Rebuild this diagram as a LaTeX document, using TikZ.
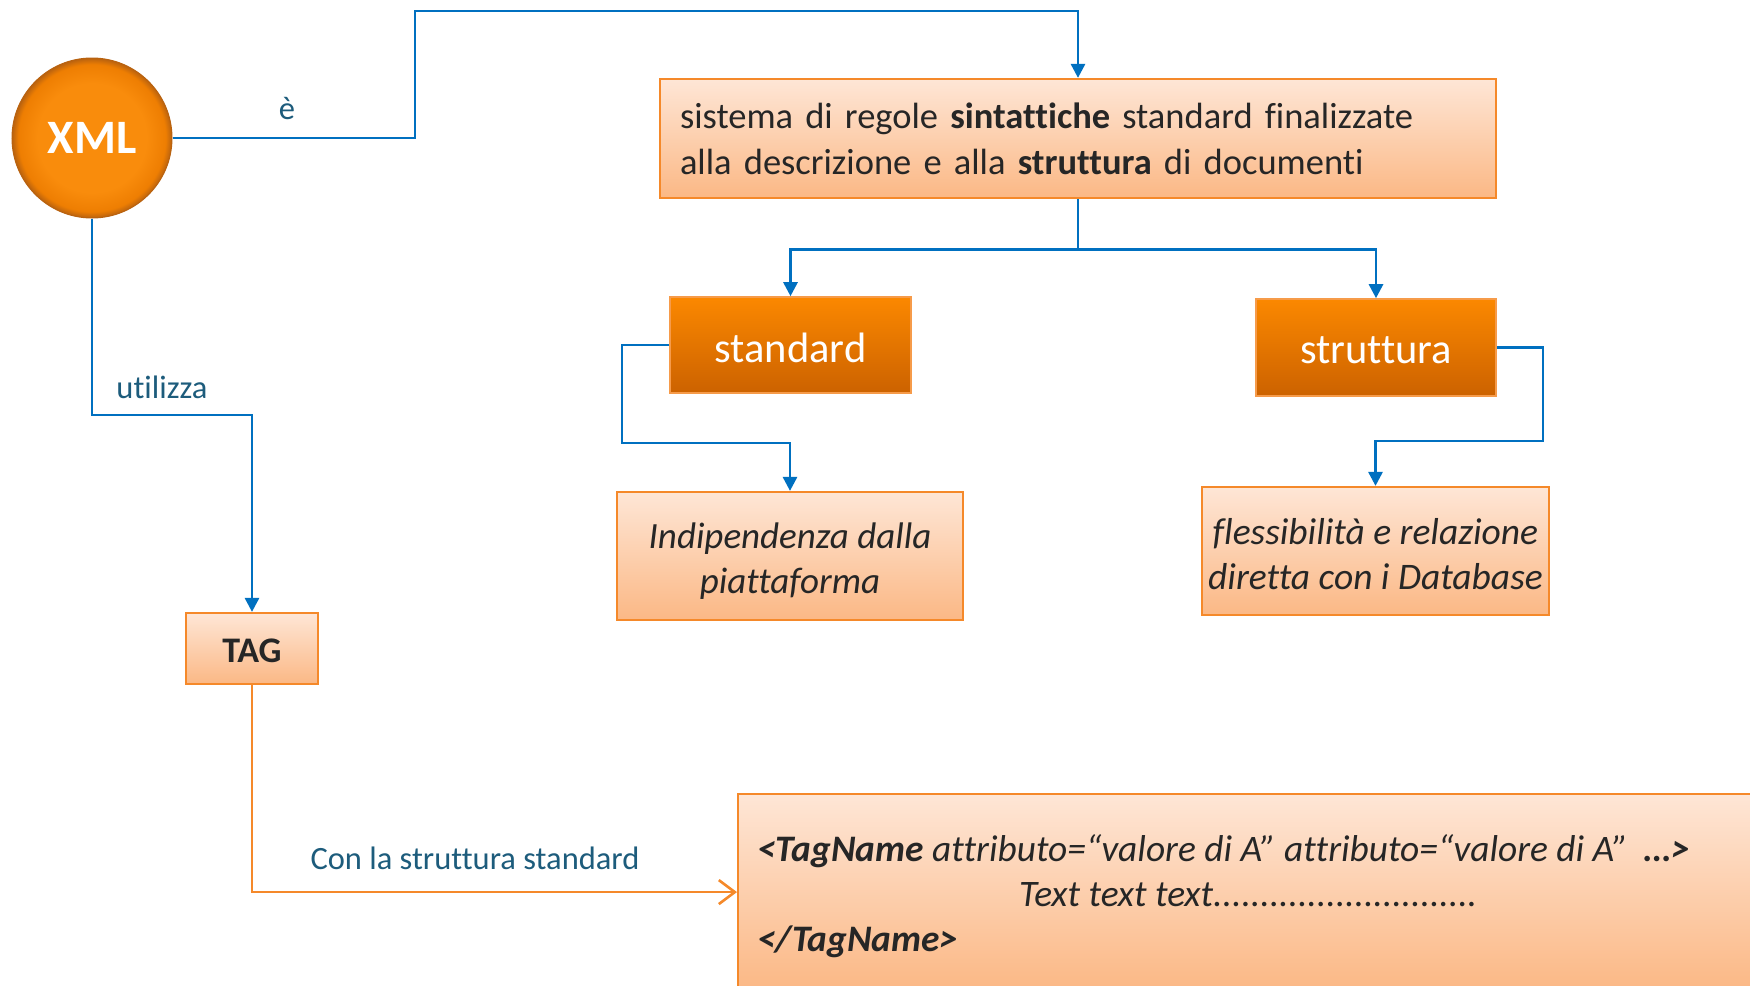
\documentclass[tikz,border=0pt]{standalone}
\usepackage{fontspec}
\setmainfont[Ligatures={TeX,NoCommon}]{Carlito}
\usetikzlibrary{arrows.meta,calc}
\definecolor{lnblue}{HTML}{0070C0}
\definecolor{lblteal}{HTML}{1D5C7C}
\definecolor{boxborder}{HTML}{F5892A}
\definecolor{lighttop}{HTML}{FEE6D6}
\definecolor{lightbot}{HTML}{FBB885}
\definecolor{darktop}{HTML}{FB8800}
\definecolor{darkbot}{HTML}{CC6200}
\definecolor{txtdark}{HTML}{262626}
\definecolor{ballA}{HTML}{F98C0C}
\definecolor{ballB}{HTML}{EE7E02}
\definecolor{ballC}{HTML}{B9620F}
\definecolor{lineorange}{HTML}{F5892A}
\pgfdeclareradialshading{xmlball}{\pgfpoint{0bp}{0bp}}{color(0bp)=(ballA); color(17bp)=(ballA); color(23bp)=(ballB); color(25bp)=(ballC); color(50bp)=(ballC)}
\newcommand{\lowertext}[2]{\raisebox{-#1}[\height][\depth]{#2}}
\tikzset{
  lightbox/.style={draw=boxborder, line width=2.2pt, top color=lighttop, bottom color=lightbot, text=txtdark, inner sep=0pt},
  darkbox/.style={draw=boxborder!85!white, line width=1.6pt, top color=darktop, bottom color=darkbot, text=white, inner sep=0pt, font=\fontsize{42.5}{50}\selectfont},
  blueline/.style={draw=lnblue, line width=2.8pt, -{Triangle[length=14pt,width=14pt]}},
  bluenoarrow/.style={draw=lnblue, line width=2.8pt},
  orangeline/.style={draw=lineorange, line width=2.6pt, -{Straight Barb[length=16pt,width=24pt,line width=2.6pt]}},
  lbl/.style={text=lblteal, inner sep=0pt, font=\fontsize{32.5}{38}\selectfont},
  codetxt/.style={text=txtdark, inner sep=0pt, anchor=base west, font=\fontsize{37.4}{45}\selectfont\itshape}
}
\begin{document}
\begin{tikzpicture}[x=1pt,y=-1pt]
\useasboundingbox (0,0) rectangle (1750,985);
\clip (0,0) rectangle (1750,985);
\fill[white] (0,0) rectangle (1750,985);

% XML ball
\node[circle, minimum size=160pt, inner sep=0pt, shading=xmlball, draw=ballC, line width=1pt,
      text=white, font=\fontsize{48}{56}\selectfont\bfseries] (xml) at (92,138) {XML};

% top box
\node[lightbox, minimum width=836pt, minimum height=119pt, text width=796pt, align=left,
      font=\fontsize{36.5}{46}\selectfont] (top) at (1078,138.5)
  {sistema di regole \textbf{sintattiche} standard finalizzate\\alla descrizione e alla \textbf{struttura} di documenti};

% dark boxes
\node[darkbox, minimum width=241pt, minimum height=96pt] (std) at (790.5,345) {\lowertext{2.5pt}{standard}};
\node[darkbox, minimum width=240pt, minimum height=97pt] (str) at (1376,347.5) {\lowertext{2.5pt}{struttura}};

% light boxes
\node[lightbox, minimum width=346pt, minimum height=128pt,
      font=\fontsize{37}{45}\selectfont\itshape] (ind) at (790,556)
  {\lowertext{5.5pt}{\begin{tabular}{@{}c@{}}Indipendenza dalla\\piattaforma\end{tabular}}};
\node[lightbox, minimum width=347pt, minimum height=128pt,
      font=\fontsize{37.5}{45}\selectfont\itshape] (fle) at (1375.5,551)
  {\lowertext{6.5pt}{\begin{tabular}{@{}c@{}}flessibilità e relazione\\diretta con i Database\end{tabular}}};

% TAG
\node[lightbox, minimum width=132pt, minimum height=71pt, font=\fontsize{36}{42}\selectfont\bfseries] (tag) at (252,648.5) {\lowertext{2.5pt}{TAG}};

% code box
\node[lightbox, minimum width=1030pt, minimum height=196pt, anchor=north west] (code) at (737,793) {};
\node[codetxt] (codeA) at (757,861) {\textbf{<TagName} attributo=“valore di A” attributo=“valore di A”\ \ \textbf{…>}};
\node[codetxt] (codeB) at (1019,906) {Text text text............................};
\node[codetxt] (codeC) at (757,951) {\textbf{</TagName>}};

% labels
\node[lbl] (lblE) at (287,109) {è};
\node[lbl] (lblU) at (162,387) {utilizza};
\node[lbl] (lblC) at (475,858) {Con la struttura standard};

% connectors
\coordinate (c1) at (415,11);
\draw[blueline] (xml.east) -| (c1) -| (top.north);
\coordinate (c2) at (252,415);
\draw[blueline] (xml.south) |- (c2) -- (tag.north);
\coordinate (c3) at ($(top.south)+(0,50)$);
\draw[bluenoarrow] (top.south) -- (c3);
\draw[blueline] (c3) -| (std.north);
\draw[blueline] (c3) -| (str.north);
\coordinate (c4) at (622,443);
\draw[blueline] (std.west) -| (c4) -| (ind.north);
\coordinate (c5) at (1543,441);
\draw[blueline] (str.east) -| (c5) -| (fle.north);
\draw[orangeline] (tag.south) |- (code.west);
\end{tikzpicture}
\end{document}
